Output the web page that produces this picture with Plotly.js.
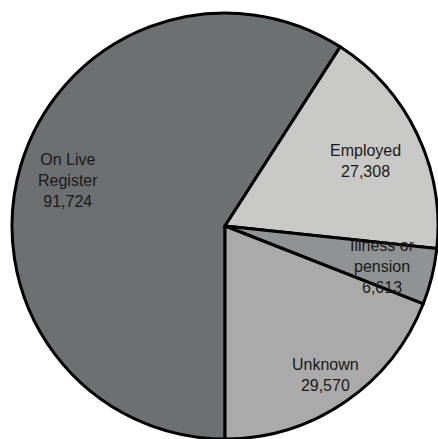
<!DOCTYPE html>
<html>
<head>
<meta charset="utf-8">
<script src="https://cdn.plot.ly/plotly-3.0.1.min.js"></script>
<style>html,body{margin:0;padding:0;background:#fff;}#chart{width:438px;height:439px;}</style>
</head>
<body>
<div id="chart"></div>
<script>
const categories = ["On Live Register", "Employed", "Illness or pension", "Unknown"];
const labelText = ["On Live<br>Register", "Employed", "Illness or<br>pension", "Unknown"];
const values = [91724, 27308, 6613, 29570];
const colors = ["#6d7071", "#c8c8c6", "#909393", "#aaaaaa"];
// label anchor positions in pixels (style, not data)
const labelPx = [[68, 181], [365, 161], [382, 266], [325, 375]];

const W = 438, H = 439;
const fmt = v => v.toLocaleString("en-US");

const trace = {
  type: "pie",
  labels: categories,
  values: values,
  sort: false,
  direction: "clockwise",
  rotation: 180,
  textinfo: "none",
  hoverinfo: "label+value",
  marker: { colors: colors, line: { color: "#000", width: 3 } },
  domain: { x: [(225 - 213) / W, (225 + 213) / W], y: [(H - 226 - 213) / H, (H - 226 + 213) / H] }
};

const annotations = categories.map((c, i) => ({
  xref: "paper", yref: "paper",
  x: labelPx[i][0] / W, y: 1 - labelPx[i][1] / H,
  xanchor: "center", yanchor: "middle",
  text: labelText[i] + "<br>" + fmt(values[i]),
  showarrow: false,
  font: { family: "Liberation Sans, Arial, sans-serif", size: 16, color: "#1a1a1a" }
}));

Plotly.newPlot("chart", [trace], {
  width: W, height: H,
  margin: { l: 0, r: 0, t: 0, b: 0 },
  showlegend: false,
  paper_bgcolor: "#fff",
  annotations: annotations
}, { displayModeBar: false, staticPlot: true });
</script>
</body>
</html>
